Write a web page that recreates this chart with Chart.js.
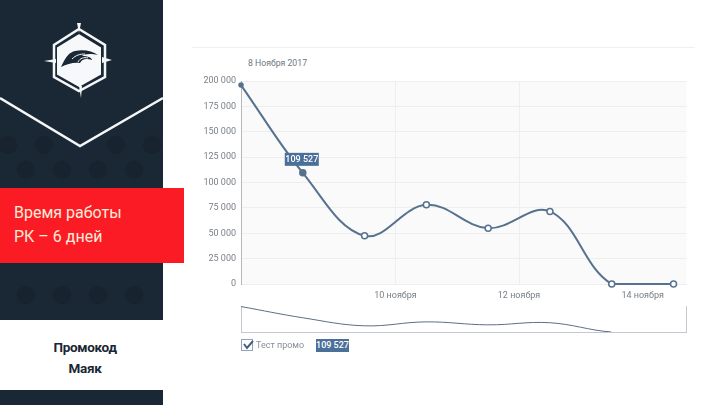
<!DOCTYPE html>
<html lang="ru">
<head>
<meta charset="utf-8">
<title>Время работы РК</title>
<script src="https://cdn.jsdelivr.net/npm/chart.js@4"></script>
<style>
  html, body { margin: 0; padding: 0; background: #fff; }
  body { width: 720px; height: 405px; position: relative; overflow: hidden; font-family: Roboto, sans-serif; }
  .abs { position: absolute; }
  #side { left: 0; top: 0; width: 163px; height: 320px; background: #1a2735; }
  #sideBottom { left: 0; top: 390px; width: 163px; height: 15px; background: #1a2735; }
  #art { left: 0; top: 0; }
  #red { left: 0; top: 188px; width: 184px; height: 75px; background: #fb1b25; color: #fbecd9;
         font-size: 16px; line-height: 24px; box-sizing: border-box; padding: 13px 0 0 14px; }
  #promo { left: 0; top: 337px; width: 170px; text-align: center; color: #1a2735; font-size: 13.5px;
           font-weight: 700; line-height: 21px; letter-spacing: -0.3px; }
  #rule { left: 192px; top: 47px; width: 503px; height: 1px; background: #f0f0f0; }
  #dateLabel { left: 248px; top: 58px; font-size: 8.7px; color: #6f7680; }
  #mainBox { left: 190px; top: 70px; width: 502px; height: 234px; }
  #miniBox { left: 190px; top: 300px; width: 500px; height: 36px; }
  #check { left: 241px; top: 339px; width: 10px; height: 10px; border: 1px solid #8fa3ba; }
  #checkMark { left: 241px; top: 338px; }
  #legendName { left: 256px; top: 340px; font-size: 9px; color: #8a9099; }
  #badge { left: 316px; top: 339px; width: 33px; height: 13px; line-height: 13px; text-align: center;
           background: #4a6f99; color: #fff; font-size: 9px; font-weight: 500; }
</style>
</head>
<body>
<div class="abs" id="side"></div>
<div class="abs" id="sideBottom"></div>
<svg class="abs" id="art" width="184" height="320" viewBox="0 0 184 320">
  <g fill="#17232f">
    <circle cx="8" cy="145" r="9"/><circle cx="44" cy="145" r="9"/><circle cx="116" cy="145" r="9"/><circle cx="152" cy="145" r="9"/>
    <circle cx="26" cy="170" r="9"/><circle cx="62" cy="170" r="9"/><circle cx="98" cy="170" r="9"/><circle cx="134" cy="170" r="9"/>
    <circle cx="26" cy="295" r="9"/><circle cx="62" cy="295" r="9"/><circle cx="98" cy="295" r="9"/><circle cx="134" cy="295" r="9"/>
  </g>
  <polyline points="0,98 80,146 163,98" fill="none" stroke="#f4f6f8" stroke-width="2.5"/>
  <polygon points="79,33 102,47 102,75 79,88 56,75 56,47" fill="#f7f8f9" stroke="#1a2735" stroke-width="2"/>
  <polygon points="79,29 105,45 105,77 79,91 54,77 54,45" fill="none" stroke="#f4f6f8" stroke-width="2.5"/>
  <path d="M77,23 L79,33 L81,23 Z M82,86 L81,98 L79,86 Z M44,61 L56,59 L56,63 Z M112,60 L102,57 L102,63 Z" fill="#f4f6f8"/>
  <path d="M61,67 C66,56 70,52 75,51 C84,49 92,51 98,55 C90,53 84,54 82,56 C88,56 92,58 92,60 C86,58 82,59 80,63 C74,62 67,64 61,67 Z" fill="#1a2735"/>
  <path d="M72,59 C76,55 80,54 85,54 M78,62 C80,58 84,57 88,58" fill="none" stroke="#f7f8f9" stroke-width="1"/>
</svg>
<div class="abs" id="red">Время работы<br>РК – 6 дней</div>
<div class="abs" id="promo">Промокод<br>Маяк</div>

<div class="abs" id="rule"></div>
<div class="abs" id="dateLabel">8 Ноября 2017</div>
<div class="abs" id="mainBox"><canvas id="mainChart"></canvas></div>
<div class="abs" id="miniBox"><canvas id="miniChart"></canvas></div>

<div class="abs" id="check"></div>
<svg class="abs" id="checkMark" width="14" height="14"><polyline points="3,6 6,10 12,3" fill="none" stroke="#3f5f85" stroke-width="2"/></svg>
<div class="abs" id="legendName">Тест промо</div>
<div class="abs" id="badge">109 527</div>

<script>
'use strict';

/* ── Data ─────────────────────────────────────────────────────────── */
const POINT_DAYS  = [7.5, 8.5, 9.5, 10.5, 11.5, 12.5, 13.5, 14.5];
const PROMO_VALUES = [196000, 109527, 47500, 78000, 55000, 71500, 0, 0];
const DAY_TICKS   = [10, 12, 14];
const Y_MAX       = 200000;
const Y_STEP      = 25000;
const X_MIN       = 7.5;
const X_MAX       = 14.71;
const MARKED_INDEX = 1;

/* ── Design tokens ────────────────────────────────────────────────── */
const C = {
  line:     '#56728f',
  lineMini: '#5b6f86',
  plotBg:   '#fafafa',
  grid:     '#eeeeee',
  axis:     '#b4b8bd',
  frame:    '#c4c9cf',
  tick:     '#7a8088',
  flag:     '#4a6f99',
};

const points = POINT_DAYS.map((x, i) => ({ x, y: PROMO_VALUES[i] }));
const fmt = v => String(v).replace(/\B(?=(\d{3})+$)/g, ' ');

/* plot background */
const plotBg = {
  id: 'plotBg',
  beforeDraw(chart) {
    const { ctx, chartArea: a } = chart;
    ctx.save();
    ctx.fillStyle = C.plotBg;
    ctx.fillRect(a.left, a.top, a.right - a.left, a.bottom - a.top);
    ctx.restore();
  },
};

/* value flag above the hovered point */
const valueFlag = {
  id: 'valueFlag',
  afterDatasetsDraw(chart) {
    const el = chart.getDatasetMeta(0).data[MARKED_INDEX];
    const { ctx } = chart;
    const w = 34, h = 13;
    ctx.save();
    ctx.fillStyle = C.flag;
    ctx.fillRect(el.x - 18, el.y - 20, w, h);
    ctx.fillStyle = '#fff';
    ctx.font = '500 9px Roboto';
    ctx.textAlign = 'center';
    ctx.textBaseline = 'middle';
    ctx.fillText(fmt(PROMO_VALUES[MARKED_INDEX]), el.x - 1, el.y - 13.5);
    ctx.restore();
  },
};

/* right edge of the navigator frame */
const frameRight = {
  id: 'frameRight',
  afterDraw(chart) {
    const { ctx, chartArea: a } = chart;
    ctx.save();
    ctx.strokeStyle = C.frame;
    ctx.beginPath();
    ctx.moveTo(a.right + 0.5, a.top);
    ctx.lineTo(a.right + 0.5, a.bottom);
    ctx.stroke();
    ctx.restore();
  },
};

new Chart(document.getElementById('mainChart'), {
  type: 'line',
  data: {
    datasets: [{
      data: points,
      borderColor: C.line,
      borderWidth: 2,
      tension: 0.38,
      clip: false,
      pointRadius: (c) => (c.dataIndex === 0 ? 2 : 3),
      pointBorderWidth: 1.5,
      pointBorderColor: C.line,
      pointBackgroundColor: (c) => (c.dataIndex <= MARKED_INDEX ? C.line : '#fff'),
    }],
  },
  options: {
    responsive: true,
    maintainAspectRatio: false,
    animation: false,
    layout: { padding: { top: 11, right: 3 } },
    plugins: { legend: { display: false }, tooltip: { enabled: false } },
    scales: {
      x: {
        type: 'linear',
        min: X_MIN,
        max: X_MAX,
        afterBuildTicks: (axis) => { axis.ticks = DAY_TICKS.map(value => ({ value })); },
        afterFit: (axis) => { axis.height = 20; axis.paddingRight = 0; axis.paddingLeft = 0; },
        grid: {
          color: (c) => (c.tick && c.tick.value === 14 ? 'transparent' : C.grid),
          drawTicks: false,
        },
        border: { color: C.grid },
        ticks: {
          color: C.tick,
          font: { family: 'Roboto', size: 9 },
          padding: 6,
          maxRotation: 0,
          callback: (v) => `${v} ноября`,
        },
      },
      y: {
        min: 0,
        max: Y_MAX,
        afterFit: (axis) => { axis.width = 51; },
        grid: { color: C.grid, drawTicks: false },
        border: { color: C.axis },
        ticks: {
          stepSize: Y_STEP,
          color: C.tick,
          font: { family: 'Roboto', size: 9 },
          padding: 5,
          callback: (v) => fmt(v),
        },
      },
    },
  },
  plugins: [plotBg, valueFlag],
});

/* navigator strip under the main chart */
new Chart(document.getElementById('miniChart'), {
  type: 'line',
  data: {
    datasets: [{
      data: points,
      borderColor: C.lineMini,
      borderWidth: 1,
      tension: 0.38,
      pointRadius: 0,
      segment: {
        borderColor: (s) => (s.p0.parsed.y === 0 && s.p1.parsed.y === 0 ? 'transparent' : undefined),
      },
    }],
  },
  options: {
    responsive: true,
    maintainAspectRatio: false,
    animation: false,
    layout: { padding: { top: 6, right: 4, bottom: 4 } },
    plugins: { legend: { display: false }, tooltip: { enabled: false } },
    scales: {
      x: {
        type: 'linear',
        min: X_MIN,
        max: X_MAX,
        afterFit: (axis) => { axis.height = 0; },
        grid: { display: false },
        border: { color: C.frame },
        ticks: { display: false },
      },
      y: {
        min: 0,
        max: Y_MAX,
        afterFit: (axis) => { axis.width = 51; },
        grid: { display: false },
        border: { color: C.frame },
        ticks: { display: false },
      },
    },
  },
  plugins: [frameRight],
});
</script>
</body>
</html>
